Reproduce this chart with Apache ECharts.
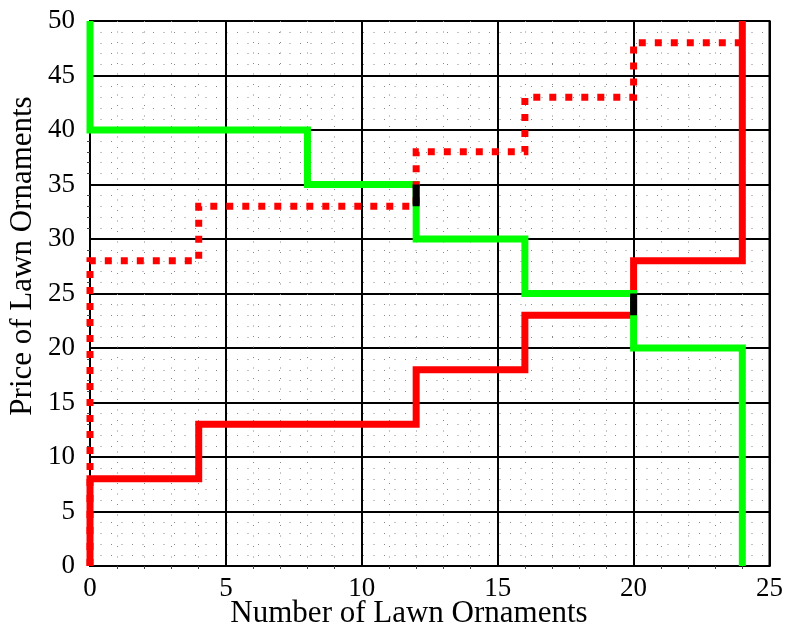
<!DOCTYPE html>
<html>
<head>
<meta charset="utf-8">
<script src="https://cdn.jsdelivr.net/npm/echarts@6/dist/echarts.min.js"></script>
<style>
html,body{margin:0;padding:0;background:#fff;}
#chart{width:786px;height:630px;}
</style>
</head>
<body>
<div id="chart"></div>
<script>
// Demand (green)
var demandQty   = [0, 0, 8, 8, 12, 12, 16, 16, 20, 20, 24, 24];
var demandPrice = [50, 40, 40, 35, 35, 30, 30, 25, 25, 20, 20, 0];
// Supply (red solid)
var supplyQty   = [0, 0, 4, 4, 12, 12, 16, 16, 20, 20, 24, 24];
var supplyPrice = [0, 8, 8, 13, 13, 18, 18, 23, 23, 28, 28, 50];
// Shifted supply (red dotted)
var shiftQty    = [0, 0, 4, 4, 12, 12, 16, 16, 20, 20, 24];
var shiftPrice  = [0, 28, 28, 33, 33, 38, 38, 43, 43, 48, 48];
// Overlap segments (black)
var overlapAQty = [12, 12];
var overlapAPrice = [33, 35];
var overlapBQty = [20, 20];
var overlapBPrice = [23, 25];

var xTicks = [0, 5, 10, 15, 20, 25];
var yTicks = [0, 5, 10, 15, 20, 25, 30, 35, 40, 45, 50];
var xTitle = 'Number of Lawn Ornaments';
var yTitle = 'Price of Lawn Ornaments';

function pairs(xs, ys) { return xs.map(function (x, i) { return [x, ys[i]]; }); }

var FONT = 'Liberation Serif';
var chart = echarts.init(document.getElementById('chart'), null, {renderer: 'canvas'});

function lineSeries(name, xs, ys, color, type, z) {
  return {
    name: name, type: 'line', data: pairs(xs, ys), showSymbol: false, symbol: 'none',
    animation: false, z: z, silent: true,
    lineStyle: {color: color, width: 7, type: type, cap: 'butt', join: 'miter'}
  };
}

var axisCommon = {
  type: 'value',
  axisLine: {show: true, onZero: false, lineStyle: {color: '#000', width: 2}},
  axisTick: {show: false},
  minorTick: {show: true, splitNumber: 5, inside: true, length: 3, lineStyle: {color: '#444', width: 1}},
  splitLine: {show: true, lineStyle: {color: '#000', width: 2}},
  minorSplitLine: {show: true, lineStyle: {color: '#888', width: 1, type: [1, 9.5]}},
  axisLabel: {color: '#000', fontFamily: FONT, fontSize: 27}
};

chart.setOption({
  animation: false,
  backgroundColor: '#fff',
  grid: {left: 90, right: 15, top: 21, bottom: 64, show: true, borderColor: '#000', borderWidth: 2, backgroundColor: '#fff'},
  xAxis: Object.assign({}, axisCommon, {
    min: xTicks[0], max: xTicks[xTicks.length - 1], interval: 5,
    axisLabel: Object.assign({}, axisCommon.axisLabel, {margin: 9})
  }),
  yAxis: Object.assign({}, axisCommon, {
    min: yTicks[0], max: yTicks[yTicks.length - 1], interval: 5,
    axisLabel: Object.assign({}, axisCommon.axisLabel, {margin: 15})
  }),
  graphic: [
    {type: 'text', left: null, x: 409, y: 614, z: 100,
     style: {text: xTitle, fontFamily: FONT, fontSize: 31, fill: '#000', textAlign: 'center', textVerticalAlign: 'middle'}},
    {type: 'text', x: 23, y: 256, rotation: Math.PI / 2, z: 100,
     style: {text: yTitle, fontFamily: FONT, fontSize: 31, fill: '#000', textAlign: 'center', textVerticalAlign: 'middle'}}
  ],
  series: [
    lineSeries('Supply', supplyQty, supplyPrice, '#ff0000', 'solid', 2),
    lineSeries('Demand', demandQty, demandPrice, '#00ff00', 'solid', 3),
    lineSeries('Shifted supply', shiftQty, shiftPrice, '#ff0000', [7, 9], 4),
    lineSeries('Overlap A', overlapAQty, overlapAPrice, '#000000', 'solid', 5),
    lineSeries('Overlap B', overlapBQty, overlapBPrice, '#000000', 'solid', 5)
  ]
});
</script>
</body>
</html>
